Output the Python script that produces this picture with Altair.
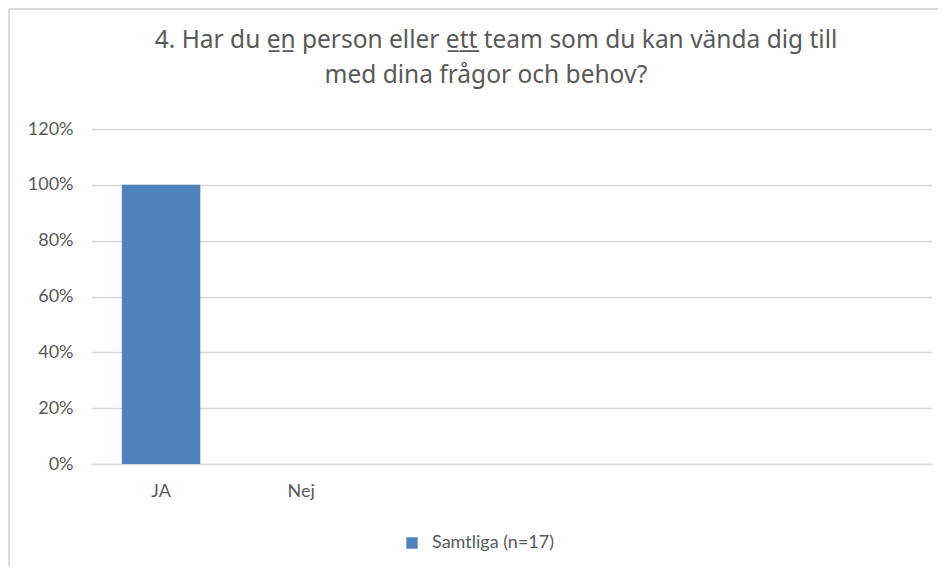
import altair as alt
import pandas as pd

categories = ["JA", "Nej", " ", "  ", "   ", "    "]
answer_categories = ["JA", "Nej"]
values = [1.0, 0.0]
series_name = "Samtliga (n=17)"
y_ticks = [0, 0.2, 0.4, 0.6, 0.8, 1.0, 1.2]
title_lines = ["4. Har du e\u0332n\u0332 person eller e\u0332t\u0332t\u0332 team som du kan vända dig till",
               "med dina frågor och behov?"]

df = pd.DataFrame({"cat": answer_categories, "val": values, "serie": [series_name] * len(values)})

FONT = "Lato"
TFONT = "Noto Sans"
TXT = "#595959"

bars = alt.Chart(df).mark_bar(color="#4F81BD").encode(
    x=alt.X("cat:N", scale=alt.Scale(domain=categories, paddingInner=0.44, paddingOuter=0.22),
            sort=categories,
            axis=alt.Axis(title=None, labelAngle=0, ticks=False, domain=True, domainColor="#D9D9D9",
                          domainWidth=1.5, labelPadding=18, labelFontSize=18, labelColor=TXT,
                          labelFont=FONT)),
    y=alt.Y("val:Q", scale=alt.Scale(domain=[0, 1.2], nice=False),
            axis=alt.Axis(title=None, values=y_ticks, format=".0%", ticks=False, domain=False,
                          gridColor="#D9D9D9", gridWidth=1.5, labelPadding=18, labelFontSize=18,
                          labelColor=TXT, labelFont=FONT)),
    color=alt.Color("serie:N", scale=alt.Scale(domain=[series_name], range=["#4F81BD"]),
                    legend=alt.Legend(title=None, orient="none", legendX=312, legendY=405,
                                      symbolType="square", symbolSize=130, symbolStrokeWidth=0,
                                      labelFontSize=18, labelColor=TXT, labelFont=FONT,
                                      padding=0, labelOffset=11)),
)

title_df = pd.DataFrame({"line": title_lines, "idx": [0, 1]})
title1 = alt.Chart(title_df).transform_filter("datum.idx == 0").mark_text(
    font=TFONT, fontSize=24.5, color=TXT, align="center", baseline="alphabetic"
).encode(text="line:N", x=alt.value(405), y=alt.value(-81))
title2 = alt.Chart(title_df).transform_filter("datum.idx == 1").mark_text(
    font=TFONT, fontSize=24.5, color=TXT, align="center", baseline="alphabetic"
).encode(text="line:N", x=alt.value(395), y=alt.value(-46))

frame = alt.Chart(df).mark_rule(color="#D9D9D9", strokeWidth=1.5).encode(
    x=alt.value(-82), y=alt.value(-120), y2=alt.value(460)
)
frame_top = alt.Chart(df).mark_rule(color="#D9D9D9", strokeWidth=1.5).encode(
    x=alt.value(-82), x2=alt.value(860), y=alt.value(-120)
)

chart = alt.layer(frame, frame_top, bars, title1, title2).properties(
    width=841, height=335,
    autosize=alt.AutoSizeParams(type="none"),
    padding={"left": 83, "top": 121, "right": 6, "bottom": 102},
).configure_view(stroke=None)

chart.save("out.html", embed_options={"renderer": "svg", "actions": False})
